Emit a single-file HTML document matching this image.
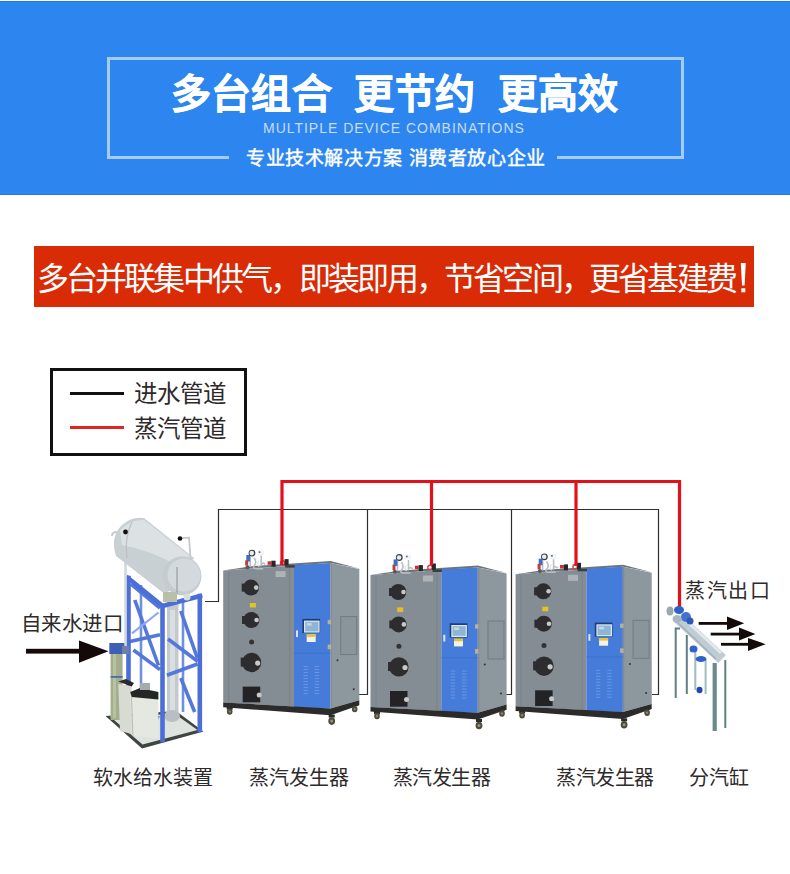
<!DOCTYPE html>
<html lang="zh-CN"><head><meta charset="utf-8">
<style>
html,body{margin:0;padding:0;background:#fff;}
body{width:790px;height:874px;position:relative;overflow:hidden;font-family:"Liberation Sans",sans-serif;}
.abs{position:absolute;white-space:pre;line-height:1;}
#hdr{position:absolute;left:0;top:1px;width:790px;height:192px;background:#2d86ef;border-top:1px solid #1c7cee;border-bottom:1px solid #1c7cee;}
#frame{position:absolute;left:107px;top:57px;width:571px;height:97px;border:3px solid #a6cbf3;border-bottom:none;}
.fb{position:absolute;top:156px;height:3px;background:#a6cbf3;}
#title{left:171px;top:74px;font-size:40px;font-weight:bold;color:#fff;letter-spacing:0.2px;-webkit-text-stroke:0.6px #fff;}
#eng{left:263px;top:121px;font-size:14px;color:#c6dcf8;letter-spacing:0.98px;}
#sub{left:246px;top:149px;font-size:19px;color:#fff;letter-spacing:0.6px;-webkit-text-stroke:0.45px #fff;}
#red{position:absolute;left:34px;top:246px;width:720px;height:61px;background:#d92c06;}
.redt{top:262.5px;font-size:32px;color:#fff;letter-spacing:-2.8px;}
#legend{position:absolute;left:50px;top:368px;width:191px;height:82px;border:3px solid #111;}
.lab{color:#2e2a2b;font-size:20px;}
</style></head><body>
<div id="hdr"></div>
<div id="frame"></div>
<div class="fb" style="left:107px;width:122px"></div>
<div class="fb" style="left:557px;width:127px"></div>
<div class="abs" id="title">多台组合  更节约  更高效</div>
<div class="abs" id="eng">MULTIPLE DEVICE COMBINATIONS</div>
<div class="abs" id="sub">专业技术解决方案 消费者放心企业</div>
<div id="red"></div>
<div class="abs redt" style="left:36.5px">多台并联集中供气，</div>
<div class="abs redt" style="left:299px">即装即用，</div>
<div class="abs redt" style="left:444px">节省空间，</div>
<div class="abs redt" style="left:589px">更省基建费</div>
<svg style="position:absolute;left:0;top:0" width="790" height="320"><polygon points="740.8,263 745.8,263 744.6,285.5 742,285.5" fill="#fff"/><rect x="741.3" y="288.3" width="4" height="4" fill="#fff"/></svg>
<div id="legend"></div>
<svg id="dg" width="790" height="874" viewBox="0 0 790 874" style="position:absolute;left:0;top:0">
<defs>
<g id="m">
  <!-- top surface -->
  <polygon points="0,0 30,-4.5 107.3,-9.5 136.1,-2 107.3,-7.5 70.8,-5" fill="#6f7479"/>
  <!-- front face -->
  <polygon points="0,0 70.8,-5 70.8,136 0,132" fill="#848d94"/>
  <line x1="5.5" y1="1" x2="5.5" y2="131" stroke="#78828a" stroke-width="1"/>
  <line x1="66.5" y1="-4" x2="66.5" y2="135" stroke="#7b8085" stroke-width="1"/>
  <!-- blue panel -->
  <polygon points="70.8,-5.7 107.3,-7.5 107.3,137.8 70.8,137" fill="#457bd9"/>
  <line x1="70.8" y1="82.7" x2="107.3" y2="82.7" stroke="#3c6fcc" stroke-width="0.8"/>
  <!-- side panel -->
  <polygon points="107.3,-7.5 136.1,-1.5 136.1,129.6 107.3,137.8" fill="#8d979e"/>
  <line x1="108" y1="-7" x2="108" y2="137" stroke="#85898d" stroke-width="1.2"/>
  <rect x="117.5" y="46" width="16" height="38" fill="#8a949b" stroke="#737b82" stroke-width="1"/>
  <circle cx="114.3" cy="89.6" r="1" fill="#333"/>
  <circle cx="130.5" cy="118.6" r="1" fill="#333"/>
  <rect x="104.5" y="49.3" width="3.5" height="4.3" fill="#b5b29c"/>
  <rect x="104.5" y="74" width="3.5" height="4.6" fill="#b5b29c"/>
  <!-- base -->
  <polygon points="0,132 107.3,137.8 136.1,129.6 136.1,134.7 107.3,144.6 0,136.6" fill="#2b2b2b"/>
  <!-- wheels -->
  <rect x="3.5" y="136" width="6" height="3" fill="#2b2b2b"/>
  <ellipse cx="6.5" cy="141" rx="2.8" ry="3.2" fill="#4e4a3c"/>
  <circle cx="6.5" cy="141" r="1.2" fill="#8a8468"/>
  <rect x="105.5" y="144" width="6" height="3" fill="#2b2b2b"/>
  <ellipse cx="108.5" cy="150.5" rx="3.4" ry="3.8" fill="#4e4a3c"/>
  <circle cx="108.5" cy="150.5" r="1.5" fill="#9a9274"/>
  <rect x="128.5" y="133.5" width="6" height="2" fill="#2b2b2b"/>
  <ellipse cx="131.5" cy="138.5" rx="2.8" ry="3.2" fill="#4e4a3c"/>
  <circle cx="131.5" cy="138.5" r="1.2" fill="#8a8468"/>
  <!-- portholes -->
  <circle cx="27.8" cy="17" r="8" fill="#2d2d2f"/>
  <rect x="18.5" y="13" width="3" height="8" fill="#2d2d2f"/>
  <circle cx="33" cy="17" r="2.3" fill="#c8c8c8"/>
  <rect x="26.7" y="32.4" width="6" height="4.5" fill="#e6c21e"/>
  <circle cx="28.2" cy="49.4" r="8" fill="#2d2d2f"/>
  <rect x="18.8" y="45.4" width="3" height="8" fill="#2d2d2f"/>
  <circle cx="33.4" cy="49.4" r="2.3" fill="#c8c8c8"/>
  <circle cx="28.4" cy="71.3" r="2.5" fill="#333"/>
  <circle cx="28.4" cy="91.9" r="9.7" fill="#2d2d2f"/>
  <rect x="17.5" y="87" width="3" height="9" fill="#2d2d2f"/>
  <circle cx="34.5" cy="92.5" r="2.6" fill="#c8c8c8"/>
  <rect x="19.5" y="116" width="17.5" height="15.7" fill="#232325"/>
  <circle cx="36" cy="124.5" r="2.5" fill="#c8c8c8"/>
  <rect x="52.4" y="0.5" width="10" height="6" fill="#aeb3b8"/>
  <!-- screen -->
  <rect x="79.2" y="48.3" width="17.7" height="14.2" fill="#1d3c7a"/>
  <rect x="80.8" y="50" width="15.6" height="12" fill="#dfe8f0"/>
  <rect x="82" y="51.2" width="13.2" height="9.6" fill="#8db6d4"/>
  <rect x="83.5" y="52.5" width="5" height="2.5" fill="#c9d6e0"/>
  <rect x="83.5" y="63.8" width="9" height="7.6" fill="#f2f2ee"/>
  <rect x="83.5" y="63.8" width="9" height="2.5" fill="#e8c42a"/>
  <rect x="72.8" y="59.8" width="2" height="6.7" fill="#dfe3e8"/>
  <!-- vents -->
  <g stroke="#6f9ae6" stroke-width="0.9">
    <line x1="80.3" y1="96" x2="84.7" y2="96"/><line x1="80.3" y1="99" x2="84.7" y2="99"/><line x1="80.3" y1="102" x2="84.7" y2="102"/><line x1="80.3" y1="105" x2="84.7" y2="105"/><line x1="80.3" y1="108" x2="84.7" y2="108"/><line x1="80.3" y1="111" x2="84.7" y2="111"/><line x1="80.3" y1="114" x2="84.7" y2="114"/><line x1="80.3" y1="117" x2="84.7" y2="117"/><line x1="80.3" y1="120" x2="84.7" y2="120"/><line x1="80.3" y1="123" x2="84.7" y2="123"/>
    <line x1="91.5" y1="96" x2="96" y2="96"/><line x1="91.5" y1="99" x2="96" y2="99"/><line x1="91.5" y1="102" x2="96" y2="102"/><line x1="91.5" y1="105" x2="96" y2="105"/><line x1="91.5" y1="108" x2="96" y2="108"/><line x1="91.5" y1="111" x2="96" y2="111"/><line x1="91.5" y1="114" x2="96" y2="114"/><line x1="91.5" y1="117" x2="96" y2="117"/><line x1="91.5" y1="120" x2="96" y2="120"/><line x1="91.5" y1="123" x2="96" y2="123"/>
  </g>
  <!-- gauges on top -->
  <path d="M27,-14 L27,-4 M31,-13 Q34,-8 31,-5 Q29,-2 33,-2 L40,-2 M38,-15 L38,-6 Q40,-9 42,-6" stroke="#b9bec4" stroke-width="1.6" fill="none"/>
  <path d="M36,-10 Q33,-7 36,-4" stroke="#e0e3e6" stroke-width="1.2" fill="none"/>
  <rect x="23.1" y="-15.6" width="3.8" height="6.5" fill="#3d6fc9"/>
  <rect x="22" y="-10.3" width="3" height="5.3" fill="#c73838"/>
  <circle cx="24.3" cy="-3.3" r="2" fill="#555a60"/>
  <circle cx="28.8" cy="-17.5" r="3.4" fill="#3b3f47"/>
  <circle cx="28.6" cy="-17.5" r="2.3" fill="#e9edf2"/>
  <rect x="34.4" y="-20.2" width="6.2" height="4.6" fill="#f0f2f6"/>
  <rect x="35.5" y="-19.3" width="1.6" height="1.6" fill="#54607a"/>
  <rect x="44.4" y="-9.3" width="3.8" height="3.5" fill="#d32a3a"/>
  <rect x="48.2" y="-9.9" width="4.2" height="6" fill="#26272b"/>
  <circle cx="59.5" cy="-7.6" r="2.2" fill="none" stroke="#d8404e" stroke-width="1.4"/>
  <rect x="61.4" y="-11.5" width="4" height="6.5" fill="#26272b"/>
  <rect x="62" y="-5.5" width="9.4" height="2.5" fill="#3a3d42"/>
</g>

</defs>
<!-- black water lines -->
<g stroke="#2e2e2e" stroke-width="1.2" fill="none">
  <polyline points="205,601.5 218.5,601.5 218.5,509.5 658.5,509.5 658.5,694.5 652,694.5"/>
  <polyline points="367.5,509.5 367.5,694.5 359,694.5"/>
  <polyline points="511.5,509.5 511.5,694.5 505,694.5"/>
</g>
<!-- machines -->
<use href="#m" x="223.2" y="570.6"/>
<use href="#m" x="370.5" y="575"/>
<use href="#m" x="515.6" y="574.3"/>
<!-- red steam lines -->
<g stroke="#e2111b" stroke-width="3.2" fill="none">
  <polyline points="282,565 282,481.5 679.5,481.5 679.5,607"/>
  <line x1="431.5" y1="481.5" x2="431.5" y2="565"/>
  <line x1="576" y1="481.5" x2="576" y2="566"/>
</g>
<!-- water treatment device -->
<g id="water">
  <!-- platform -->
  <polygon points="105.5,716 142,748.5 203.5,731.5 176,711" fill="#3f4542"/>
  <polygon points="110,716.5 142.5,744.5 197.5,730 175,714" fill="#dfe3df"/>
  <!-- back posts (light) -->
  <g stroke="#6f8fe0" stroke-width="2.6">
    <line x1="141" y1="585" x2="141" y2="700"/>
    <line x1="183" y1="598" x2="183" y2="712"/>
  </g>
  <!-- central grey column -->
  <rect x="167" y="600" width="11.5" height="118" fill="#c3c9cc"/>
  <rect x="170" y="610" width="5" height="100" fill="#d9dee0"/>
  <ellipse cx="172" cy="716" rx="8" ry="6" fill="#b8bec2"/>
  <!-- blue truss -->
  <g stroke="#5478da" stroke-width="3.6" fill="none">
    <line x1="134.8" y1="600" x2="158.5" y2="665.5"/>
    <line x1="129" y1="641.8" x2="160" y2="634.8"/>
    <line x1="133.4" y1="650" x2="160" y2="669.6"/>
    <line x1="180.8" y1="611" x2="197.5" y2="658.5"/>
    <line x1="168" y1="639" x2="197.5" y2="661.3"/>
    <line x1="166.9" y1="675.2" x2="197.5" y2="664"/>
    <line x1="180.8" y1="678" x2="194.7" y2="712"/>
    <line x1="129" y1="700" x2="159" y2="718"/>
    <line x1="131" y1="584" x2="160" y2="608"/>
  </g>
  <g stroke="#8ea8ec" stroke-width="2.2" fill="none">
    <line x1="132" y1="633.4" x2="158.5" y2="612.5"/>
  </g>
  <g stroke="#4b6fd6" stroke-width="4.6" stroke-linecap="square" fill="none">
    <line x1="128.5" y1="578" x2="128.5" y2="705"/>
    <line x1="162.5" y1="606" x2="162.5" y2="740"/>
    <line x1="199.8" y1="596" x2="199.8" y2="730"/>
    <polyline points="128,578 162.5,606 200,596"/>
  </g>
  <!-- pipes -->
  <path d="M112,536 Q112,532 117,532 L125,532" stroke="#c7cdd0" stroke-width="2" fill="none"/>
  <line x1="125.5" y1="532" x2="125.5" y2="648" stroke="#d3d8db" stroke-width="2.6"/>
  <path d="M178,538.4 L189,537.7 L190.5,558" stroke="#c3c9cc" stroke-width="1.8" fill="none"/>
  <!-- tank -->
  <path d="M116,556 Q110,538 121,526 Q131,516 144,518 L194,558 L166,595 Z" fill="#c9d0d4"/>
  <path d="M120,530 Q131,519 144,520 L190,556 L178,566 Q150,550 122,545 Z" fill="#dce1e3"/>
  <path d="M132,522 Q124,538 127,558" stroke="#b9c1c5" stroke-width="1.2" fill="none"/>
  <circle cx="182" cy="576" r="19.5" fill="#c5ccd0"/>
  <circle cx="184" cy="575" r="16.5" fill="#d3d9dc"/>
  <line x1="177" y1="567" x2="177" y2="594" stroke="#9aa3a8" stroke-width="1.3"/>
  <circle cx="125.5" cy="532" r="2.4" fill="#111"/>
  <circle cx="180" cy="538.5" r="2.3" fill="#111"/>
  <!-- fittings under tank -->
  <rect x="163" y="592" width="14" height="10" fill="#b9c0a8"/>
  <circle cx="187" cy="597" r="3.5" fill="#d8dde0"/>
  <!-- green filter -->
  <rect x="110.6" y="646" width="12" height="74" fill="#a3ae8c"/>
  <rect x="113" y="650" width="3" height="68" fill="#b8c2a2"/>
  <rect x="109.3" y="643" width="15" height="11" fill="#3d5fb5"/>
  <rect x="122" y="646" width="7" height="8" fill="#6f7fa8"/>
  <rect x="110.6" y="676" width="12" height="1.8" fill="#4a6bbb"/>
  <!-- white brine tanks -->
  <polygon points="118.3,684 131.7,686 131.7,734 120,731" fill="#d7dbd2"/>
  <polygon points="118.3,681.5 126,679 134,683 131.7,686.5" fill="#2a2a2a"/>
  <polygon points="130.2,696 158.4,699 158.4,738 133,736" fill="#e5e8e0"/>
  <polygon points="130.2,692 140,688 158.4,692 158.4,699.4 131.7,697" fill="#262626"/>
  <line x1="131.5" y1="697" x2="133" y2="736" stroke="#b9bdb5" stroke-width="1"/>
  <rect x="140" y="683" width="10" height="7" fill="#a4abae"/>
  <!-- arrow in -->
  <rect x="26" y="648.8" width="55" height="4.8" fill="#140a0a"/>
  <polygon points="79,640.4 108.5,651.2 79,662.7" fill="#140a0a"/>
</g>
<!-- steam header -->
<g id="hdr2">
  <g stroke="#5f7f80" stroke-width="2">
    <polyline points="680,628.5 675.7,628.5 675.7,698" fill="none"/>
    <line x1="686.8" y1="635" x2="686.8" y2="694"/>
    <line x1="725.3" y1="660" x2="725.3" y2="728"/>
  </g>
  <line x1="714.7" y1="663" x2="714.7" y2="731" stroke="#6a8a8c" stroke-width="4.2"/>
  <g stroke="#9fbcbf" stroke-width="2">
    <line x1="695.3" y1="650" x2="695.3" y2="690"/>
    <line x1="705.6" y1="660" x2="705.6" y2="694"/>
  </g>
  <line x1="678" y1="618" x2="722" y2="659" stroke="#bfccd4" stroke-width="11"/>
  <line x1="679" y1="614" x2="721" y2="653" stroke="#e2e8ec" stroke-width="3"/>
  <line x1="676" y1="621" x2="716" y2="659" stroke="#9fb1bb" stroke-width="1.5"/>
  <ellipse cx="670" cy="611" rx="3.5" ry="4.5" fill="#9aa8b0"/>
  <ellipse cx="679" cy="610" rx="5" ry="4" fill="#2f60c6"/>
  <ellipse cx="686" cy="617" rx="5" ry="5" fill="#4572cc"/>
  <ellipse cx="677" cy="619" rx="4.5" ry="4" fill="#a9b7bf"/>
  <ellipse cx="690" cy="621" rx="3.5" ry="3.5" fill="#2a58bd"/>
  <ellipse cx="693.5" cy="649" rx="4" ry="3.5" fill="#2f63c9"/>
  <ellipse cx="701" cy="659" rx="5.5" ry="3" fill="#2f63c9"/>
  <ellipse cx="699.5" cy="690" rx="3" ry="3.2" fill="#1f47b8"/>
  <!-- out arrows -->
  <g fill="#140a0a">
    <rect x="698.7" y="622" width="30" height="2.8"/>
    <polygon points="727,616.4 744.2,623.3 727,630"/>
    <rect x="710.7" y="632.7" width="30" height="2.8"/>
    <polygon points="739,627.6 755.4,634 739,640.4"/>
    <rect x="721" y="642.9" width="29" height="2.8"/>
    <polygon points="748,638 765.7,644.2 748,651"/>
  </g>
</g>

</svg>
<div style="position:absolute;left:70px;top:392px;width:54px;height:3px;background:#111"></div>
<div style="position:absolute;left:70px;top:426px;width:54px;height:3px;background:#e0261d"></div>
<div class="abs lab" style="left:134px;top:382.5px;font-size:23.5px">进水管道</div>
<div class="abs lab" style="left:134px;top:418px;font-size:23.5px">蒸汽管道</div>

<div class="abs lab" style="left:20.5px;top:614px;font-size:20.5px;letter-spacing:0.5px">自来水进口</div>
<div class="abs lab" style="left:685px;top:581px;letter-spacing:1.5px">蒸汽出口</div>
<div class="abs lab" style="left:93px;top:767.5px">软水给水装置</div>
<div class="abs lab" style="left:249px;top:768px">蒸汽发生器</div>
<div class="abs lab" style="left:392.5px;top:768px;letter-spacing:-0.4px">蒸汽发生器</div>
<div class="abs lab" style="left:556px;top:768px;letter-spacing:-0.4px">蒸汽发生器</div>
<div class="abs lab" style="left:688.5px;top:768px">分汽缸</div>
</body></html>
